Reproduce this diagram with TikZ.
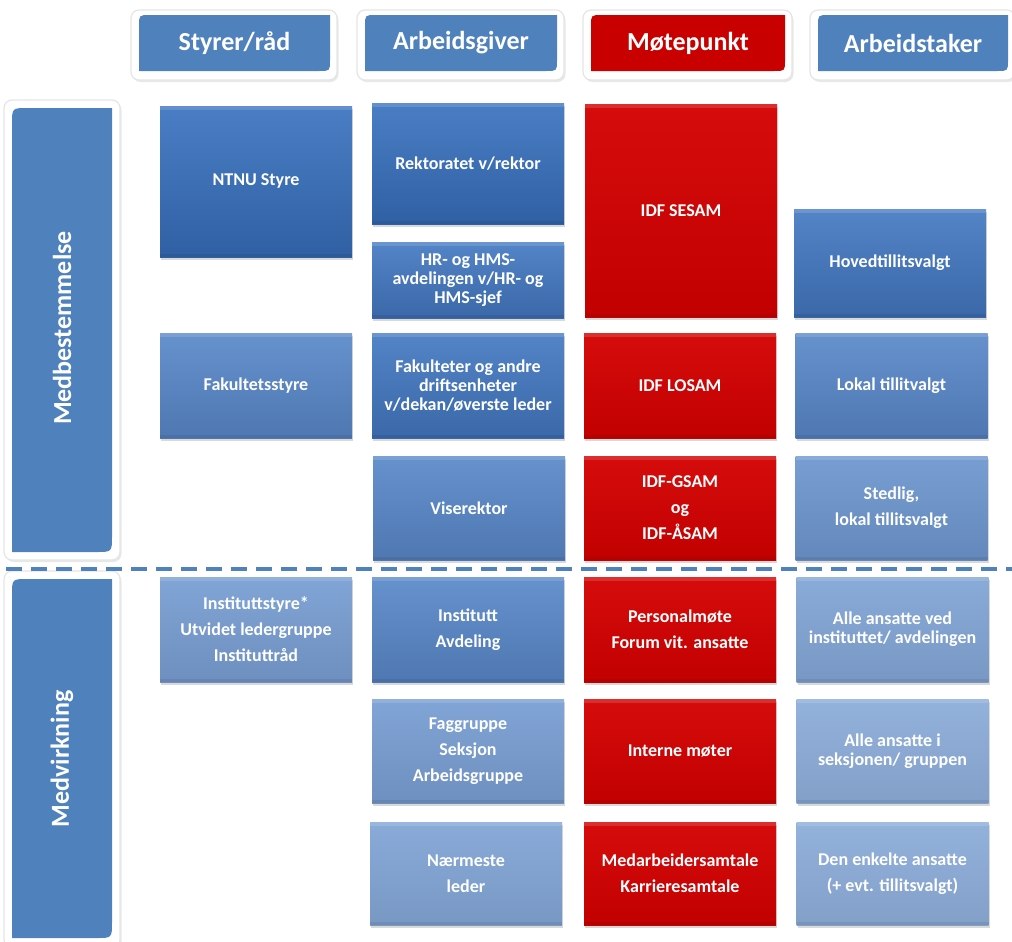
\documentclass[tikz,border=0pt]{standalone}
\usepackage{fontspec}
\setmainfont{Carlito}
\usetikzlibrary{shadows}

\definecolor{kantblaa}{RGB}{79,129,189}
\definecolor{lysblaa}{RGB}{74,126,196}
\definecolor{moerkblaa}{RGB}{48,96,164}
\definecolor{lysroed}{RGB}{214,12,12}
\definecolor{moerkroed}{RGB}{194,0,0}
\definecolor{hoderoed}{RGB}{200,0,0}

\tikzset{
  boks/.style={minimum width=192bp, inner sep=2bp, text=white, align=center,
    font=\bfseries\fontsize{18bp}{26bp}\selectfont,
    drop shadow={shadow xshift=1bp, shadow yshift=-2.5bp, opacity=0.3},
    path picture={
      \fill[white, opacity=0.14] (path picture bounding box.north west) rectangle ([yshift=-4bp]path picture bounding box.north east);
      \fill[black, opacity=0.07] (path picture bounding box.south west) rectangle ([yshift=3bp]path picture bounding box.south east);
    }},
  tett/.style={font=\bfseries\fontsize{18bp}{19bp}\selectfont},
  blaa/.style={top color=lysblaa!#1!white, bottom color=moerkblaa!#1!white},
  roed/.style={top color=lysroed, bottom color=moerkroed},
  hode/.style={text=white, font=\bfseries\fontsize{26bp}{30bp}\selectfont},
  ramme/.style={fill=white, draw=black!10, line width=1.2bp, rounded corners=8bp,
    drop shadow={shadow xshift=1.5bp, shadow yshift=-2bp, opacity=0.18}}
}

\begin{document}
\begin{tikzpicture}[x=1bp,y=-1bp]
\useasboundingbox (0,0) rectangle (1012,942);

% overskrifter
\foreach \xa/\xb/\farge/\navn/\tekst in {139/330/kantblaa/styrer/{Styrer/råd}, 365/557/kantblaa/giver/Arbeidsgiver, 591/785/hoderoed/moete/Møtepunkt, 818/1008/kantblaa/taker/Arbeidstaker}
{
\draw[ramme] (\xa-8,10) rectangle (\xb+7,80);
\fill[\farge] (\xa,71) -- (\xa,26) .. controls (\xa,15) .. (\xa+11,15) -- (\xb,15) -- (\xb,60) .. controls (\xb,71) .. (\xb-11,71) -- cycle;
\node[hode] (h\navn) at ({(\xa+\xb)/2},43) {\tekst};
}

% sidefelt
\draw[ramme] (4,100) rectangle (120,560);
\fill[kantblaa] (12,552) -- (12,124) .. controls (12,108) .. (28,108) -- (112,108) -- (112,536) .. controls (112,552) .. (96,552) -- cycle;
\node[hode, rotate=90] (medbest) at (62,328) {Medbestemmelse};

\draw[ramme] (4,571) rectangle (120,948);
\fill[kantblaa] (12,938) -- (12,595) .. controls (12,579) .. (28,579) -- (112,579) -- (112,922) .. controls (112,938) .. (96,938) -- cycle;
\node[hode, rotate=90] (medvirk) at (62,759) {Medvirkning};

% skillelinje
\coordinate (skilleV) at (6,569);
\coordinate (skilleH) at (1012,569);
\draw[kantblaa, line width=3.5bp, dash pattern=on 16bp off 9bp] (skilleV) -- (skilleH);

% styrer/raad
\node[boks, blaa=100, minimum height=151bp] (ntnu) at (256,181.5) {NTNU Styre};
\node[boks, blaa=85, minimum height=105bp] (fakstyre) at (256,385.5) {Fakultetsstyre};
\node[boks, blaa=70, minimum height=105bp] (inststyre) at (256,629.5) {Instituttstyre*\\Utvidet ledergruppe\\Instituttråd};

% arbeidsgiver
\node[boks, blaa=100, minimum height=121bp] (rektor) at (468,163.5) {Rektoratet v/rektor};
\node[boks, tett, blaa=95, minimum height=76bp] (hrhms) at (468,280) {HR- og HMS-\\avdelingen v/HR- og\\HMS-sjef};
\node[boks, tett, blaa=95, minimum height=105bp] (fakultet) at (468,385.5) {Fakulteter og andre\\driftsenheter\\v/dekan/øverste leder};
\node[boks, blaa=85, minimum height=104bp] (viserektor) at (469,508) {Viserektor};
\node[boks, blaa=85, minimum height=105bp] (institutt) at (468,629.5) {Institutt\\Avdeling};
\node[boks, blaa=70, minimum height=104bp] (faggruppe) at (468,751) {Faggruppe\\Seksjon\\Arbeidsgruppe};
\node[boks, blaa=65, minimum height=103bp] (naermeste) at (466,873.5) {Nærmeste\\leder};

% moetepunkt
\node[boks, roed, minimum height=213bp] (sesam) at (681,210.5) {IDF SESAM};
\node[boks, roed, minimum height=105bp] (losam) at (680,385.5) {IDF LOSAM};
\node[boks, roed, minimum height=104bp] (gsam) at (680,508) {IDF-GSAM\\og\\IDF-ÅSAM};
\node[boks, roed, minimum height=105bp] (personal) at (680,629.5) {Personalmøte\\Forum vit. ansatte};
\node[boks, roed, minimum height=104bp] (interne) at (680,751) {Interne møter};
\node[boks, roed, minimum height=103bp] (samtale) at (680,873.5) {Medarbeidersamtale\\Karrieresamtale};

% arbeidstaker
\node[boks, blaa=95, minimum height=108bp] (hoved) at (890,263) {Hovedtillitsvalgt};
\node[boks, blaa=85, minimum height=105bp] (lokal) at (891.5,385.5) {Lokal tillitvalgt};
\node[boks, blaa=75, minimum height=104bp] (stedlig) at (891.5,508) {Stedlig,\\lokal tillitsvalgt};
\node[boks, tett, blaa=65, minimum height=105bp] (alleved) at (892.5,629.5) {Alle ansatte ved\\instituttet/ avdelingen};
\node[boks, tett, blaa=60, minimum height=104bp] (allei) at (892.5,751) {Alle ansatte i\\seksjonen/ gruppen};
\node[boks, blaa=60, minimum height=103bp] (enkelte) at (892.5,873.5) {Den enkelte ansatte\\(+ evt. tillitsvalgt)};
\end{tikzpicture}
\end{document}
